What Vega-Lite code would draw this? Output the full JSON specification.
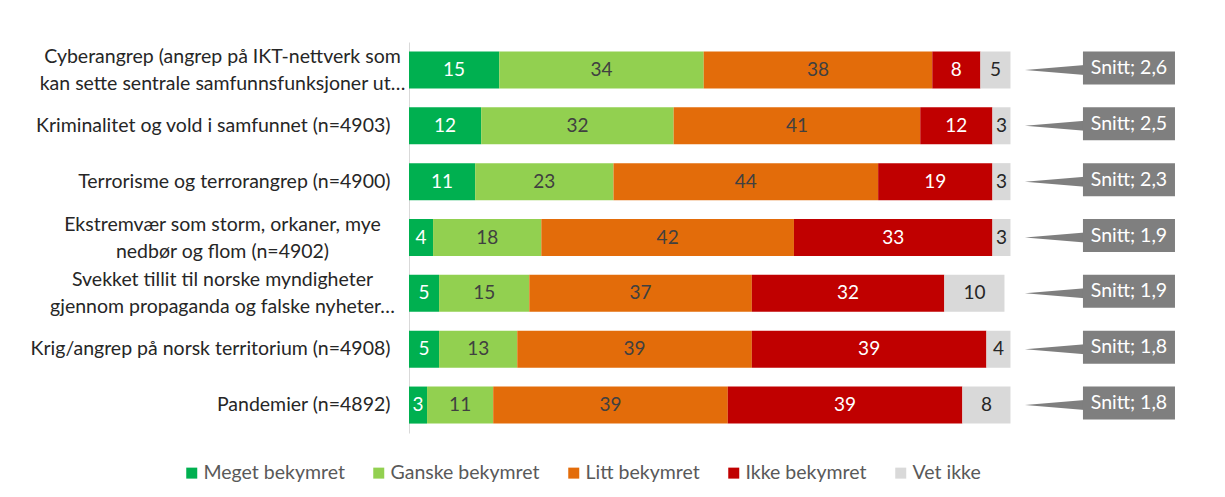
{
  "$schema": "https://vega.github.io/schema/vega-lite/v6.json",
  "width": 812,
  "height": 391,
  "autosize": {"type": "none"},
  "padding": {"left": 409, "top": 42, "right": 4, "bottom": 64},
  "background": "white",
  "config": {"font": "Lato", "view": {"stroke": null}},
  "datasets": {
    "bars": [
      {"tema": "Cyberangrep (angrep på IKT-nettverk som|kan sette sentrale samfunnsfunksjoner ut…", "svar": "Meget bekymret", "rekkefolge": 1, "andel": 15},
      {"tema": "Cyberangrep (angrep på IKT-nettverk som|kan sette sentrale samfunnsfunksjoner ut…", "svar": "Ganske bekymret", "rekkefolge": 2, "andel": 34},
      {"tema": "Cyberangrep (angrep på IKT-nettverk som|kan sette sentrale samfunnsfunksjoner ut…", "svar": "Litt bekymret", "rekkefolge": 3, "andel": 38},
      {"tema": "Cyberangrep (angrep på IKT-nettverk som|kan sette sentrale samfunnsfunksjoner ut…", "svar": "Ikke bekymret", "rekkefolge": 4, "andel": 8},
      {"tema": "Cyberangrep (angrep på IKT-nettverk som|kan sette sentrale samfunnsfunksjoner ut…", "svar": "Vet ikke", "rekkefolge": 5, "andel": 5},
      {"tema": "Kriminalitet og vold i samfunnet (n=4903)", "svar": "Meget bekymret", "rekkefolge": 1, "andel": 12},
      {"tema": "Kriminalitet og vold i samfunnet (n=4903)", "svar": "Ganske bekymret", "rekkefolge": 2, "andel": 32},
      {"tema": "Kriminalitet og vold i samfunnet (n=4903)", "svar": "Litt bekymret", "rekkefolge": 3, "andel": 41},
      {"tema": "Kriminalitet og vold i samfunnet (n=4903)", "svar": "Ikke bekymret", "rekkefolge": 4, "andel": 12},
      {"tema": "Kriminalitet og vold i samfunnet (n=4903)", "svar": "Vet ikke", "rekkefolge": 5, "andel": 3},
      {"tema": "Terrorisme og terrorangrep (n=4900)", "svar": "Meget bekymret", "rekkefolge": 1, "andel": 11},
      {"tema": "Terrorisme og terrorangrep (n=4900)", "svar": "Ganske bekymret", "rekkefolge": 2, "andel": 23},
      {"tema": "Terrorisme og terrorangrep (n=4900)", "svar": "Litt bekymret", "rekkefolge": 3, "andel": 44},
      {"tema": "Terrorisme og terrorangrep (n=4900)", "svar": "Ikke bekymret", "rekkefolge": 4, "andel": 19},
      {"tema": "Terrorisme og terrorangrep (n=4900)", "svar": "Vet ikke", "rekkefolge": 5, "andel": 3},
      {"tema": "Ekstremvær som storm, orkaner, mye|nedbør og flom (n=4902)", "svar": "Meget bekymret", "rekkefolge": 1, "andel": 4},
      {"tema": "Ekstremvær som storm, orkaner, mye|nedbør og flom (n=4902)", "svar": "Ganske bekymret", "rekkefolge": 2, "andel": 18},
      {"tema": "Ekstremvær som storm, orkaner, mye|nedbør og flom (n=4902)", "svar": "Litt bekymret", "rekkefolge": 3, "andel": 42},
      {"tema": "Ekstremvær som storm, orkaner, mye|nedbør og flom (n=4902)", "svar": "Ikke bekymret", "rekkefolge": 4, "andel": 33},
      {"tema": "Ekstremvær som storm, orkaner, mye|nedbør og flom (n=4902)", "svar": "Vet ikke", "rekkefolge": 5, "andel": 3},
      {"tema": "Svekket tillit til norske myndigheter|gjennom propaganda og falske nyheter…", "svar": "Meget bekymret", "rekkefolge": 1, "andel": 5},
      {"tema": "Svekket tillit til norske myndigheter|gjennom propaganda og falske nyheter…", "svar": "Ganske bekymret", "rekkefolge": 2, "andel": 15},
      {"tema": "Svekket tillit til norske myndigheter|gjennom propaganda og falske nyheter…", "svar": "Litt bekymret", "rekkefolge": 3, "andel": 37},
      {"tema": "Svekket tillit til norske myndigheter|gjennom propaganda og falske nyheter…", "svar": "Ikke bekymret", "rekkefolge": 4, "andel": 32},
      {"tema": "Svekket tillit til norske myndigheter|gjennom propaganda og falske nyheter…", "svar": "Vet ikke", "rekkefolge": 5, "andel": 10},
      {"tema": "Krig/angrep på norsk territorium (n=4908)", "svar": "Meget bekymret", "rekkefolge": 1, "andel": 5},
      {"tema": "Krig/angrep på norsk territorium (n=4908)", "svar": "Ganske bekymret", "rekkefolge": 2, "andel": 13},
      {"tema": "Krig/angrep på norsk territorium (n=4908)", "svar": "Litt bekymret", "rekkefolge": 3, "andel": 39},
      {"tema": "Krig/angrep på norsk territorium (n=4908)", "svar": "Ikke bekymret", "rekkefolge": 4, "andel": 39},
      {"tema": "Krig/angrep på norsk territorium (n=4908)", "svar": "Vet ikke", "rekkefolge": 5, "andel": 4},
      {"tema": "Pandemier (n=4892)", "svar": "Meget bekymret", "rekkefolge": 1, "andel": 3},
      {"tema": "Pandemier (n=4892)", "svar": "Ganske bekymret", "rekkefolge": 2, "andel": 11},
      {"tema": "Pandemier (n=4892)", "svar": "Litt bekymret", "rekkefolge": 3, "andel": 39},
      {"tema": "Pandemier (n=4892)", "svar": "Ikke bekymret", "rekkefolge": 4, "andel": 39},
      {"tema": "Pandemier (n=4892)", "svar": "Vet ikke", "rekkefolge": 5, "andel": 8}
    ],
    "snitt": [
      {"tema": "Cyberangrep (angrep på IKT-nettverk som|kan sette sentrale samfunnsfunksjoner ut…", "snitt": "Snitt; 2,6"},
      {"tema": "Kriminalitet og vold i samfunnet (n=4903)", "snitt": "Snitt; 2,5"},
      {"tema": "Terrorisme og terrorangrep (n=4900)", "snitt": "Snitt; 2,3"},
      {"tema": "Ekstremvær som storm, orkaner, mye|nedbør og flom (n=4902)", "snitt": "Snitt; 1,9"},
      {"tema": "Svekket tillit til norske myndigheter|gjennom propaganda og falske nyheter…", "snitt": "Snitt; 1,9"},
      {"tema": "Krig/angrep på norsk territorium (n=4908)", "snitt": "Snitt; 1,8"},
      {"tema": "Pandemier (n=4892)", "snitt": "Snitt; 1,8"}
    ]
  },
  "encoding": {
    "y": {
      "field": "tema",
      "type": "nominal",
      "sort": [
        "Cyberangrep (angrep på IKT-nettverk som|kan sette sentrale samfunnsfunksjoner ut…",
        "Kriminalitet og vold i samfunnet (n=4903)",
        "Terrorisme og terrorangrep (n=4900)",
        "Ekstremvær som storm, orkaner, mye|nedbør og flom (n=4902)",
        "Svekket tillit til norske myndigheter|gjennom propaganda og falske nyheter…",
        "Krig/angrep på norsk territorium (n=4908)",
        "Pandemier (n=4892)"
      ],
      "scale": {"paddingInner": 0.337, "paddingOuter": 0.1685},
      "axis": {
        "title": null,
        "domainColor": "#d9d9d9",
        "domainWidth": 1,
        "ticks": false,
        "labelFont": "Lato",
        "labelFontSize": 19.5,
        "labelColor": "#262626",
        "labelLimit": 500,
        "labelLineHeight": 27,
        "labelExpr": "split(datum.label, '|')",
        "labelAlign": {"condition": {"test": "indexof(datum.value, '|') >= 0", "value": "center"}, "value": "right"},
        "labelPadding": {"condition": {"test": "indexof(datum.value, '|') >= 0", "value": 187}, "value": 19},
        "labelOffset": {"condition": {"test": "indexof(datum.value, '|') >= 0", "value": -13}, "value": 0}
      }
    }
  },
  "layer": [
    {
      "data": {"name": "bars"},
      "mark": {"type": "bar"},
      "encoding": {
        "x": {"field": "andel", "type": "quantitative", "stack": "zero", "scale": {"domain": [0, 135], "nice": false, "zero": false}, "axis": null},
        "color": {
          "field": "svar",
          "type": "nominal",
          "scale": {
            "domain": ["Meget bekymret", "Ganske bekymret", "Litt bekymret", "Ikke bekymret", "Vet ikke"],
            "range": ["#00b050", "#92d050", "#e36c0a", "#c00000", "#d9d9d9"]
          },
          "legend": {
            "title": null,
            "orient": "none",
            "direction": "horizontal",
            "legendX": -227,
            "legendY": 421,
            "symbolType": "square",
            "symbolSize": 121,
            "symbolStrokeWidth": 0,
            "labelFont": "Lato",
            "labelFontSize": 19.5,
            "labelColor": "#595959",
            "labelOffset": 2,
            "columnPadding": 24
          }
        },
        "order": {"field": "rekkefolge", "type": "quantitative"}
      }
    },
    {
      "data": {"name": "bars"},
      "transform": [
        {"stack": "andel", "groupby": ["tema"], "sort": [{"field": "rekkefolge", "order": "ascending"}], "as": ["x0", "x1"]},
        {"calculate": "(datum.x0 + datum.x1) / 2", "as": "midt"}
      ],
      "mark": {"type": "text", "fontSize": 19, "font": "Lato", "align": "center", "baseline": "middle"},
      "encoding": {
        "x": {"field": "midt", "type": "quantitative", "axis": null},
        "text": {"field": "andel", "type": "quantitative"},
        "color": {
          "condition": [
            {"test": "datum.svar === 'Meget bekymret' || datum.svar === 'Ikke bekymret'", "value": "#ffffff"},
            {"test": "datum.svar === 'Vet ikke'", "value": "#262626"}
          ],
          "value": "#404040"
        }
      }
    },
    {
      "data": {"name": "snitt"},
      "mark": {"type": "point", "shape": "M0,0L6,-0.5L6,0.5Z", "size": 400, "filled": true, "color": "#7f7f7f", "opacity": 1, "strokeWidth": 0},
      "encoding": {
        "x": {"datum": 102.4, "type": "quantitative", "axis": null}
      }
    },
    {
      "data": {"name": "snitt"},
      "mark": {"type": "bar", "height": 33, "yOffset": -2, "color": "#7f7f7f"},
      "encoding": {
        "x": {"datum": 112.05, "type": "quantitative", "axis": null},
        "x2": {"datum": 127.35}
      }
    },
    {
      "data": {"name": "snitt"},
      "mark": {"type": "text", "fontSize": 19.5, "font": "Lato", "color": "#ffffff", "yOffset": -2, "align": "center", "baseline": "middle"},
      "encoding": {
        "x": {"datum": 119.7, "type": "quantitative", "axis": null},
        "text": {"field": "snitt", "type": "nominal"}
      }
    }
  ]
}
